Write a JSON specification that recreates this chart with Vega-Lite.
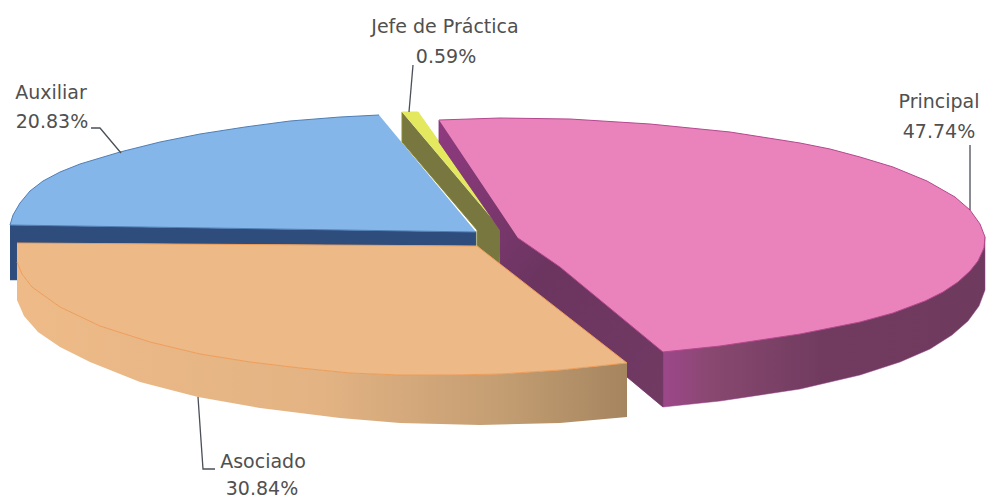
{"$schema":"https://vega.github.io/schema/vega-lite/v6.json","width":988,"height":499,"autosize":"none","padding":0,"background":"white","view":{"stroke":null},
"datasets":{"shapes":[
{"p":"blueSide","i":0,"x":10,"y":225},{"p":"blueSide","i":1,"x":476,"y":232},{"p":"blueSide","i":2,"x":476,"y":246},{"p":"blueSide","i":3,"x":17,"y":243},{"p":"blueSide","i":4,"x":17,"y":280},{"p":"blueSide","i":5,"x":10,"y":280},
{"p":"blueTop","i":0,"x":379,"y":115},{"p":"blueTop","i":1,"x":340,"y":117},{"p":"blueTop","i":2,"x":290,"y":121},{"p":"blueTop","i":3,"x":245,"y":127},{"p":"blueTop","i":4,"x":200,"y":134},{"p":"blueTop","i":5,"x":160,"y":142},{"p":"blueTop","i":6,"x":120,"y":152},{"p":"blueTop","i":7,"x":100,"y":158},{"p":"blueTop","i":8,"x":80,"y":164},{"p":"blueTop","i":9,"x":60,"y":172},{"p":"blueTop","i":10,"x":43,"y":181},{"p":"blueTop","i":11,"x":30,"y":191},{"p":"blueTop","i":12,"x":20,"y":203},{"p":"blueTop","i":13,"x":13,"y":215},{"p":"blueTop","i":14,"x":10,"y":225},{"p":"blueTop","i":15,"x":476,"y":232},
{"p":"yellowSide","i":0,"x":402,"y":112},{"p":"yellowSide","i":1,"x":402,"y":142},{"p":"yellowSide","i":2,"x":477,"y":230},{"p":"yellowSide","i":3,"x":477,"y":245},{"p":"yellowSide","i":4,"x":499,"y":272},{"p":"yellowSide","i":5,"x":500,"y":228},
{"p":"yellowTop","i":0,"x":402,"y":112},{"p":"yellowTop","i":1,"x":418,"y":112},{"p":"yellowTop","i":2,"x":500,"y":228},
{"p":"pinkSide","i":0,"x":439,"y":120},{"p":"pinkSide","i":1,"x":439,"y":142},{"p":"pinkSide","i":2,"x":500,"y":230},{"p":"pinkSide","i":3,"x":500,"y":272},{"p":"pinkSide","i":4,"x":627,"y":377},{"p":"pinkSide","i":5,"x":663,"y":407},{"p":"pinkSide","i":6,"x":720,"y":401},{"p":"pinkSide","i":7,"x":800,"y":389},{"p":"pinkSide","i":8,"x":860,"y":375},{"p":"pinkSide","i":9,"x":900,"y":362},{"p":"pinkSide","i":10,"x":930,"y":349},{"p":"pinkSide","i":11,"x":952,"y":335},{"p":"pinkSide","i":12,"x":968,"y":321},{"p":"pinkSide","i":13,"x":979,"y":306},{"p":"pinkSide","i":14,"x":985,"y":290},{"p":"pinkSide","i":15,"x":985,"y":237},
{"p":"pinkInner","i":0,"x":439,"y":120},{"p":"pinkInner","i":1,"x":439,"y":142},{"p":"pinkInner","i":2,"x":500,"y":230},{"p":"pinkInner","i":3,"x":500,"y":272},{"p":"pinkInner","i":4,"x":627,"y":377},{"p":"pinkInner","i":5,"x":663,"y":407},{"p":"pinkInner","i":6,"x":663,"y":352},{"p":"pinkInner","i":7,"x":560,"y":267},{"p":"pinkInner","i":8,"x":518,"y":238},
{"p":"pinkTop","i":0,"x":439,"y":120},{"p":"pinkTop","i":1,"x":500,"y":118},{"p":"pinkTop","i":2,"x":570,"y":119},{"p":"pinkTop","i":3,"x":650,"y":124},{"p":"pinkTop","i":4,"x":730,"y":132},{"p":"pinkTop","i":5,"x":800,"y":143},{"p":"pinkTop","i":6,"x":830,"y":149},{"p":"pinkTop","i":7,"x":860,"y":157},{"p":"pinkTop","i":8,"x":893,"y":167},{"p":"pinkTop","i":9,"x":927,"y":181},{"p":"pinkTop","i":10,"x":955,"y":197},{"p":"pinkTop","i":11,"x":970,"y":210},{"p":"pinkTop","i":12,"x":980,"y":224},{"p":"pinkTop","i":13,"x":985,"y":237},{"p":"pinkTop","i":14,"x":984,"y":248},{"p":"pinkTop","i":15,"x":978,"y":261},{"p":"pinkTop","i":16,"x":970,"y":271},{"p":"pinkTop","i":17,"x":958,"y":282},{"p":"pinkTop","i":18,"x":943,"y":292},{"p":"pinkTop","i":19,"x":925,"y":301},{"p":"pinkTop","i":20,"x":893,"y":313},{"p":"pinkTop","i":21,"x":860,"y":322},{"p":"pinkTop","i":22,"x":800,"y":334},{"p":"pinkTop","i":23,"x":720,"y":346},{"p":"pinkTop","i":24,"x":663,"y":352},{"p":"pinkTop","i":25,"x":560,"y":267},{"p":"pinkTop","i":26,"x":518,"y":238},
{"p":"orangeSide","i":0,"x":17,"y":262},{"p":"orangeSide","i":1,"x":22,"y":274},{"p":"orangeSide","i":2,"x":32,"y":287},{"p":"orangeSide","i":3,"x":60,"y":307},{"p":"orangeSide","i":4,"x":100,"y":326},{"p":"orangeSide","i":5,"x":150,"y":342},{"p":"orangeSide","i":6,"x":200,"y":354},{"p":"orangeSide","i":7,"x":250,"y":362},{"p":"orangeSide","i":8,"x":300,"y":368},{"p":"orangeSide","i":9,"x":350,"y":373},{"p":"orangeSide","i":10,"x":400,"y":375},{"p":"orangeSide","i":11,"x":450,"y":375},{"p":"orangeSide","i":12,"x":500,"y":374},{"p":"orangeSide","i":13,"x":560,"y":370},{"p":"orangeSide","i":14,"x":627,"y":363},{"p":"orangeSide","i":15,"x":627,"y":417},{"p":"orangeSide","i":16,"x":560,"y":423},{"p":"orangeSide","i":17,"x":480,"y":425},{"p":"orangeSide","i":18,"x":400,"y":423},{"p":"orangeSide","i":19,"x":340,"y":418},{"p":"orangeSide","i":20,"x":260,"y":408},{"p":"orangeSide","i":21,"x":198,"y":397},{"p":"orangeSide","i":22,"x":140,"y":382},{"p":"orangeSide","i":23,"x":90,"y":362},{"p":"orangeSide","i":24,"x":60,"y":347},{"p":"orangeSide","i":25,"x":38,"y":332},{"p":"orangeSide","i":26,"x":24,"y":316},{"p":"orangeSide","i":27,"x":17,"y":300},
{"p":"orangeTop","i":0,"x":17,"y":243},{"p":"orangeTop","i":1,"x":477,"y":246},{"p":"orangeTop","i":2,"x":627,"y":363},{"p":"orangeTop","i":3,"x":560,"y":370},{"p":"orangeTop","i":4,"x":500,"y":374},{"p":"orangeTop","i":5,"x":450,"y":375},{"p":"orangeTop","i":6,"x":400,"y":375},{"p":"orangeTop","i":7,"x":350,"y":373},{"p":"orangeTop","i":8,"x":300,"y":368},{"p":"orangeTop","i":9,"x":250,"y":362},{"p":"orangeTop","i":10,"x":200,"y":354},{"p":"orangeTop","i":11,"x":150,"y":342},{"p":"orangeTop","i":12,"x":100,"y":326},{"p":"orangeTop","i":13,"x":60,"y":307},{"p":"orangeTop","i":14,"x":32,"y":287},{"p":"orangeTop","i":15,"x":22,"y":274},{"p":"orangeTop","i":16,"x":17,"y":262}
],
"leaders":[
{"l":"Jefe","i":0,"x":413,"y":65},{"l":"Jefe","i":1,"x":409,"y":112},
{"l":"Auxiliar","i":0,"x":91,"y":128},{"l":"Auxiliar","i":1,"x":100,"y":128},{"l":"Auxiliar","i":2,"x":121,"y":153},
{"l":"Principal","i":0,"x":970,"y":145},{"l":"Principal","i":1,"x":970,"y":210},
{"l":"Asociado","i":0,"x":198,"y":397},{"l":"Asociado","i":1,"x":203,"y":469},{"l":"Asociado","i":2,"x":215,"y":469}
],
"labels":[
{"t":"Jefe de Práctica","x":445,"y":27},{"t":"0.59%","x":446,"y":57},
{"t":"Auxiliar","x":51,"y":93},{"t":"20.83%","x":52,"y":122},
{"t":"Principal","x":939,"y":102},{"t":"47.74%","x":939,"y":132},
{"t":"Asociado","x":263,"y":462},{"t":"30.84%","x":262,"y":489}
]},
"data":{"name":"shapes"},
"encoding":{
"x":{"field":"x","type":"quantitative","scale":{"domain":[0,988],"nice":false,"zero":false},"axis":null},
"y":{"field":"y","type":"quantitative","scale":{"domain":[0,499],"reverse":true,"nice":false,"zero":false},"axis":null},
"order":{"field":"i","type":"quantitative"}
},
"layer":[
{"transform":[{"filter":"datum.p=='blueSide'"}],"mark":{"type":"line","filled":true,"fill":"#2f4d7c","stroke":"#3b5a88","strokeWidth":0.5}},
{"transform":[{"filter":"datum.p=='blueTop'"}],"mark":{"type":"line","filled":true,"fill":"#85b6ea","stroke":"#4f7fb5","strokeWidth":1}},
{"transform":[{"filter":"datum.p=='yellowSide'"}],"mark":{"type":"line","filled":true,"fill":"#77773f","stroke":"#8a8a2e","strokeWidth":1}},
{"transform":[{"filter":"datum.p=='yellowTop'"}],"mark":{"type":"line","filled":true,"fill":"#e3e85e","stroke":"#e3e85e","strokeWidth":1}},
{"transform":[{"filter":"datum.p=='pinkSide'"}],"mark":{"type":"line","filled":true,"stroke":"#93408a","strokeWidth":0.5,"fill":{"gradient":"linear","x1":0,"y1":0,"x2":1,"y2":0,"stops":[{"offset":0,"color":"#8a4a72"},{"offset":0.42,"color":"#9b4788"},{"offset":0.5,"color":"#88486f"},{"offset":0.7,"color":"#713b60"},{"offset":1,"color":"#6e3a5d"}]}}},
{"transform":[{"filter":"datum.p=='pinkInner'"}],"mark":{"type":"line","filled":true,"stroke":"#7c3a6e","strokeWidth":0.5,"fill":{"gradient":"linear","x1":0,"y1":0,"x2":1,"y2":1,"stops":[{"offset":0,"color":"#8f3a80"},{"offset":0.5,"color":"#6b3560"},{"offset":1,"color":"#713a63"}]}}},
{"transform":[{"filter":"datum.p=='pinkTop'"}],"mark":{"type":"line","filled":true,"fill":"#ea83bb","stroke":"#b5488f","strokeWidth":1}},
{"transform":[{"filter":"datum.p=='orangeSide'"}],"mark":{"type":"line","filled":true,"strokeWidth":0,"fill":{"gradient":"linear","x1":0,"y1":0,"x2":1,"y2":0,"stops":[{"offset":0,"color":"#eebb88"},{"offset":0.5,"color":"#e3b383"},{"offset":0.8,"color":"#c39d72"},{"offset":1,"color":"#a5855f"}]}}},
{"transform":[{"filter":"datum.p=='orangeTop'"}],"mark":{"type":"line","filled":true,"fill":"#edb987","stroke":"#ee9c58","strokeWidth":1}},
{"data":{"name":"leaders"},"mark":{"type":"line","color":"#4a4f58","strokeWidth":1.3},"encoding":{"detail":{"field":"l"}}},
{"data":{"name":"labels"},"mark":{"type":"text","font":"DejaVu Sans","fontSize":19,"fill":"#505050","align":"center","baseline":"middle"},"encoding":{"text":{"field":"t"},"order":null}}
]}
